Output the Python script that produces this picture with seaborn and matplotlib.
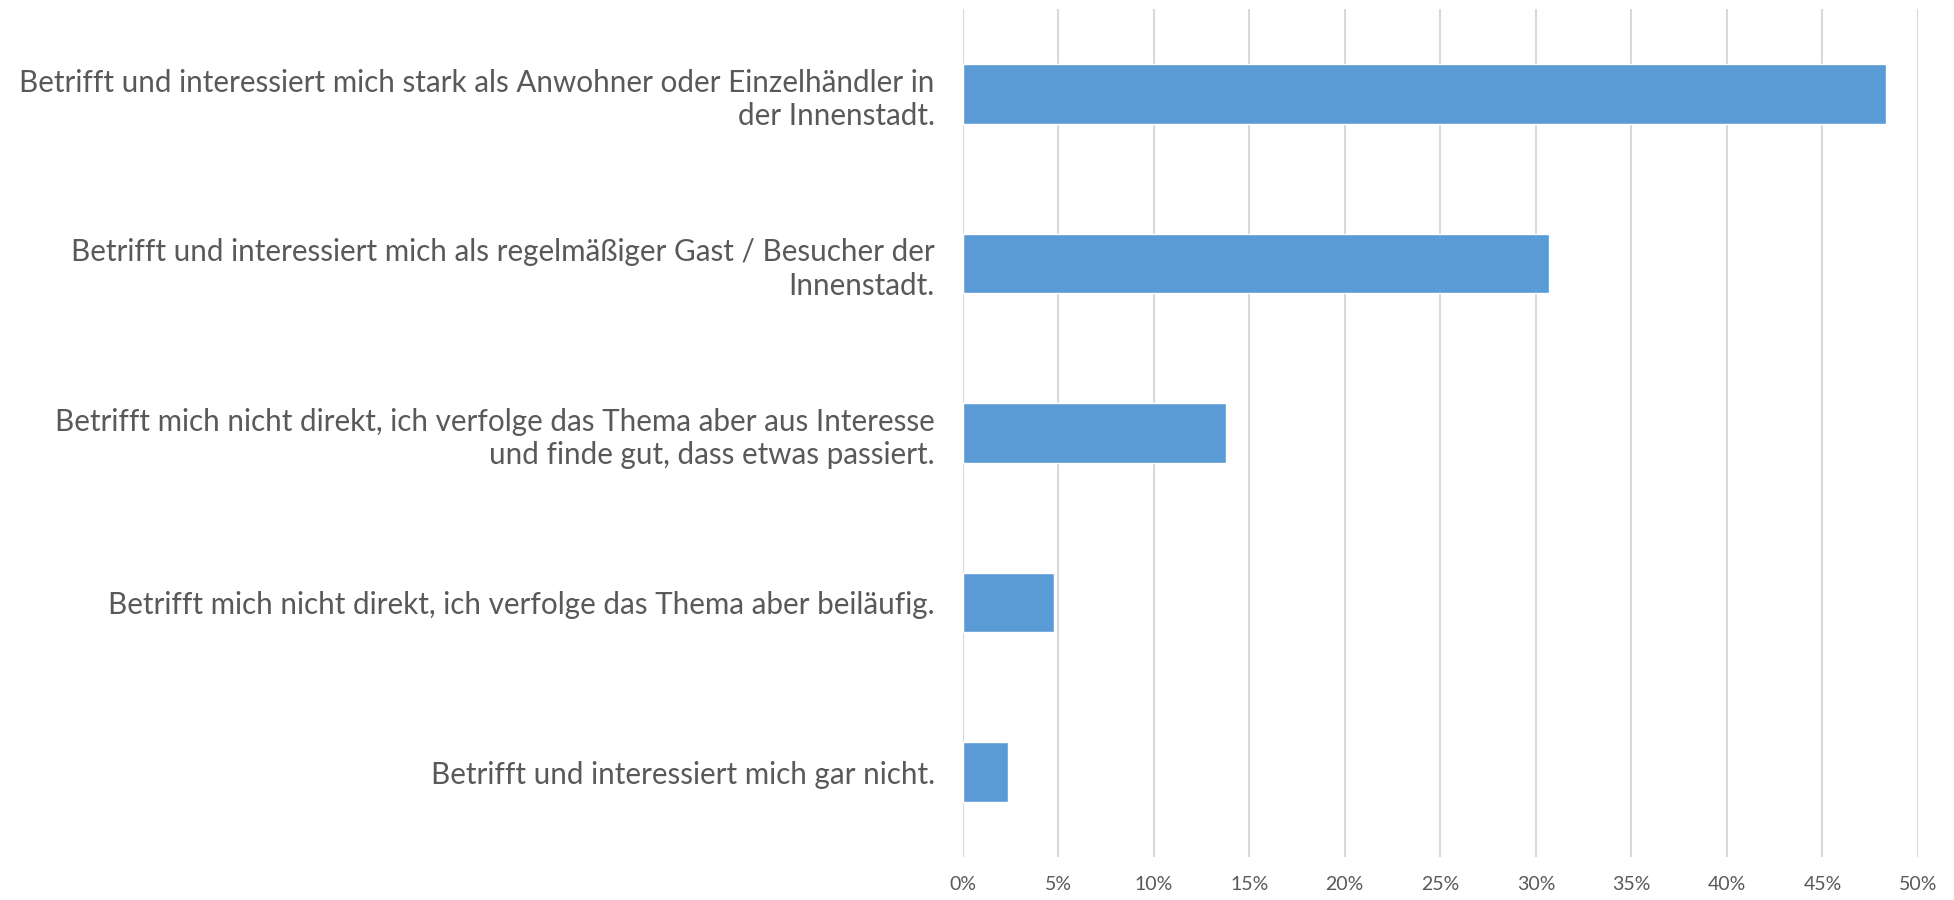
import matplotlib
matplotlib.use("Agg")
import matplotlib.pyplot as plt
import seaborn as sns
import pandas as pd
from matplotlib.ticker import PercentFormatter, MultipleLocator

# Daten
antworten = [
    "Betrifft und interessiert mich stark als Anwohner oder Einzelhändler in\nder Innenstadt.",
    "Betrifft und interessiert mich als regelmäßiger Gast / Besucher der\nInnenstadt.",
    "Betrifft mich nicht direkt, ich verfolge das Thema aber aus Interesse\nund finde gut, dass etwas passiert.",
    "Betrifft mich nicht direkt, ich verfolge das Thema aber beiläufig.",
    "Betrifft und interessiert mich gar nicht.",
]
anteile = [0.483, 0.307, 0.138, 0.048, 0.024]

df = pd.DataFrame({"Antwort": antworten, "Anteil": anteile})

sns.set_style("white")
plt.rcParams["font.family"] = ["Lato", "DejaVu Sans"]

fig = plt.figure(figsize=(19.54, 9.0), dpi=100)
ax = fig.add_axes([0.4926, 0.048, 0.9816 - 0.4926, 0.9897 - 0.048])

sns.barplot(data=df, x="Anteil", y="Antwort", orient="h", color="#5b9bd5",
            saturation=1, width=0.35, ax=ax, zorder=3)

ax.set_xlim(0, 0.5)
ax.set_ylim(4.5, -0.5)
ax.xaxis.set_major_locator(MultipleLocator(0.05))
ax.xaxis.set_major_formatter(PercentFormatter(1.0, decimals=0))
ax.grid(axis="x", color="#d9d9d9", linewidth=1.5, zorder=0)
ax.grid(axis="y", visible=False)
for s in ax.spines.values():
    s.set_visible(False)

ax.set_xlabel("")
ax.set_ylabel("")
ax.tick_params(axis="x", length=0, pad=14, labelsize=14, labelcolor="#595959")
ax.tick_params(axis="y", length=0, pad=20, labelsize=21.3, labelcolor="#595959")
for lbl in ax.get_yticklabels():
    lbl.set_linespacing(1.25)

fig.savefig("out.png", dpi=100)
